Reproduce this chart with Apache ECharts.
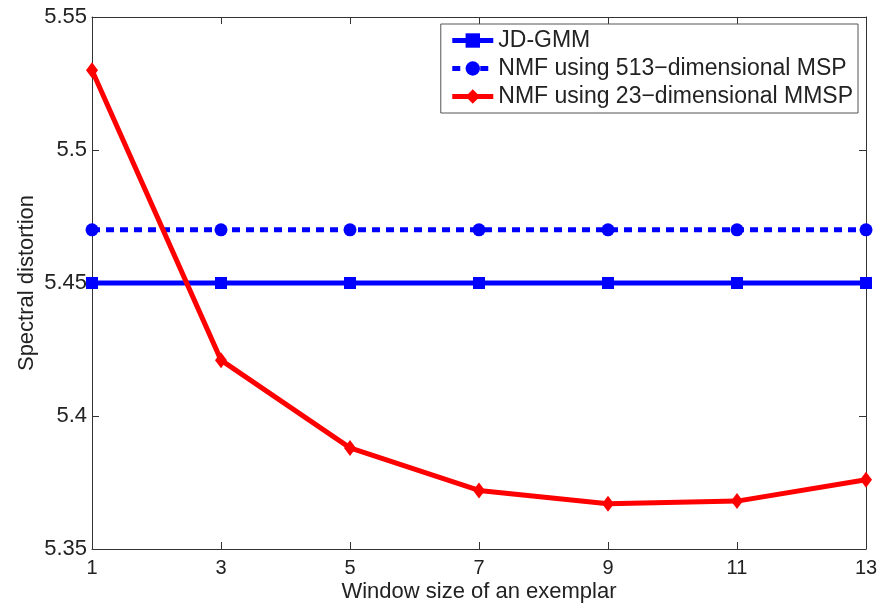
<!DOCTYPE html>
<html>
<head>
<meta charset="utf-8">
<script src="https://cdn.jsdelivr.net/npm/echarts@6/dist/echarts.min.js"></script>
<style>
  html, body { margin: 0; padding: 0; background: #fff; }
  #chart { width: 878px; height: 604px; }
</style>
</head>
<body>
<div id="chart"></div>
<script>
  const windowSizes = [1, 3, 5, 7, 9, 11, 13];
  const jdGmm = [5.45, 5.45, 5.45, 5.45, 5.45, 5.45, 5.45];
  const nmfMsp = [5.47, 5.47, 5.47, 5.47, 5.47, 5.47, 5.47];
  const nmfMmsp = [5.530, 5.421, 5.388, 5.372, 5.367, 5.368, 5.376];
  const seriesNames = ['JD-GMM', 'NMF using 513\u2212dimensional MSP', 'NMF using 23\u2212dimensional MMSP'];

  const pairs = (ys) => windowSizes.map((x, i) => [x, ys[i]]);
  const font = 'Liberation Sans, Arial, sans-serif';

  const chart = echarts.init(document.getElementById('chart'));
  const axisLine = { show: true, lineStyle: { color: '#333', width: 1 } };
  const tickIn = { show: true, inside: true, length: 7, lineStyle: { color: '#333' } };

  chart.setOption({
    animation: false,
    grid: { left: 92, right: 12, top: 17, bottom: 55, outerBoundsMode: 'none' },
    legend: {
      top: 24,
      right: 20,
      orient: 'vertical',
      itemWidth: 41,
      itemHeight: 18,
      itemGap: 5,
      padding: [5, 5, 5, 9],
      borderColor: '#555',
      borderWidth: 1,
      backgroundColor: '#fff',
      lineStyle: { width: 5 },
      textStyle: { fontFamily: font, fontSize: 23, color: '#222' },
      data: seriesNames
    },
    xAxis: [
      {
        type: 'value', min: 1, max: 13, interval: 2,
        name: 'Window size of an exemplar', nameLocation: 'middle', nameGap: 32,
        nameMoveOverlap: false,
        nameTextStyle: { fontFamily: font, fontSize: 22, color: '#222' },
        axisLine, axisTick: tickIn,
        axisLabel: { fontFamily: font, fontSize: 20, color: '#222', margin: 9 },
        splitLine: { show: false }
      },
      {
        type: 'value', position: 'top', min: 1, max: 13, interval: 2,
        axisLine, axisTick: tickIn, axisLabel: { show: false }, splitLine: { show: false }
      }
    ],
    yAxis: [
      {
        type: 'value', min: 5.35, max: 5.55, interval: 0.05,
        name: 'Spectral distortion', nameLocation: 'middle', nameGap: 54,
        nameMoveOverlap: false,
        nameTextStyle: { fontFamily: font, fontSize: 22, color: '#222' },
        axisLine, axisTick: tickIn,
        axisLabel: { fontFamily: font, fontSize: 22, color: '#222', margin: 5,
          formatter: (v) => String(+v.toFixed(2)) },
        splitLine: { show: false }
      },
      {
        type: 'value', position: 'right', min: 5.35, max: 5.55, interval: 0.05,
        axisLine, axisTick: tickIn, axisLabel: { show: false }, splitLine: { show: false }
      }
    ],
    series: [
      {
        name: seriesNames[0], type: 'line', data: pairs(jdGmm),
        symbol: 'rect', symbolSize: 12,
        lineStyle: { color: '#0000ff', width: 5 },
        itemStyle: { color: '#0000ff' }, z: 3
      },
      {
        name: seriesNames[1], type: 'line', data: pairs(nmfMsp),
        symbol: 'circle', symbolSize: 13,
        lineStyle: { color: '#0000ff', width: 5, type: [8, 6] },
        itemStyle: { color: '#0000ff' }, z: 3
      },
      {
        name: seriesNames[2], type: 'line', data: pairs(nmfMmsp),
        symbol: 'diamond', symbolSize: [12, 16],
        lineStyle: { color: '#ff0000', width: 5 },
        itemStyle: { color: '#ff0000' }, z: 4
      }
    ]
  });
</script>
</body>
</html>
